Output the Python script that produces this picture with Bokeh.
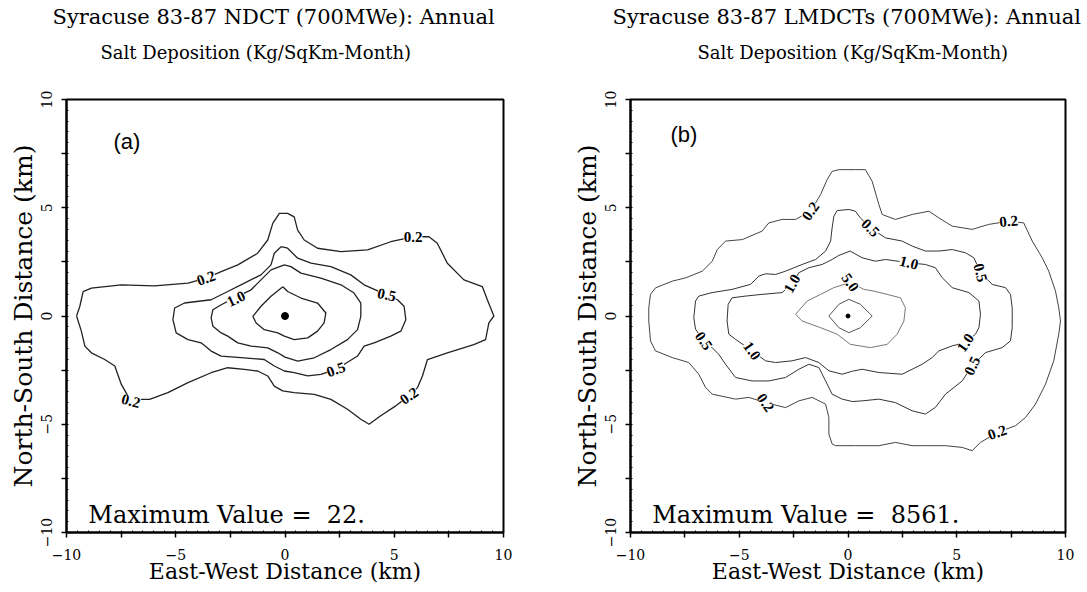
from bokeh.plotting import figure
from bokeh.models import ColumnDataSource, LabelSet, Label, FixedTicker, Title
from bokeh.layouts import row
from bokeh.embed import file_html
from bokeh.resources import INLINE

SERIF = "DejaVu Serif"

# ---------------- Panel (a): NDCT ----------------
a_c02_x = [-9.54, -9.39, -9.24, -8.86, -7.49, -5.97, -4.44, -3.61, -2.92, -2.16, -1.25, -0.79, -0.56, -0.26,
           0.12, 0.42, 0.58, 0.88, 1.49, 2.56, 3.78, 4.84, 5.86, 6.59, 6.97, 7.43, 8.19, 9.03, 9.26, 9.56,
           9.33, 9.18, 8.64, 7.43, 6.52, 6.29, 6.06, 5.68, 5.07, 4.38, 3.85, 3.47, 2.86, 2.10, 1.34, 0.42,
           -0.11, -0.49, -0.79, -1.25, -1.86, -2.62, -3.38, -4.44, -5.36, -6.20, -7.10, -7.49, -7.79, -8.25,
           -8.86, -9.16, -9.32, -9.54]
a_c02_y = [0.00, 0.45, 1.13, 1.29, 1.44, 1.39, 1.52, 1.75, 2.05, 2.36, 2.90, 3.51, 4.28, 4.74,
           4.74, 4.58, 3.97, 3.51, 3.13, 2.97, 3.05, 3.43, 3.66, 3.66, 3.36, 2.44, 1.67, 1.36, 0.75, 0.00,
           -0.32, -1.09, -1.32, -1.70, -2.01, -2.77, -3.31, -3.69, -4.15, -4.61, -5.00, -4.77, -4.31, -3.85,
           -3.62, -3.54, -3.46, -3.24, -2.77, -2.54, -2.47, -2.39, -2.62, -3.08, -3.54, -3.85, -3.85, -3.16,
           -2.31, -2.01, -1.70, -1.39, -0.70, 0.00]
a_c05_x = [-0.18, 0.12, 0.58, 1.19, 2.10, 3.01, 3.62, 4.66, 5.15, 5.45, 5.53, 5.30, 4.84, 4.08, 3.62, 3.32,
           2.33, 1.64, 1.04, 0.42, -0.03, -0.49, -0.95, -1.86, -2.92, -3.38, -3.84, -4.44, -4.98, -5.13,
           -5.05, -4.60, -3.38, -2.62, -1.86, -1.10, -0.64, -0.49, -0.18]
a_c05_y = [3.20, 3.13, 2.67, 2.44, 2.28, 1.90, 1.44, 0.98, 0.75, 0.45, -0.17, -0.70, -0.93, -1.24, -1.39,
           -1.85, -2.47, -2.70, -2.77, -2.62, -2.54, -2.31, -2.01, -1.93, -1.85, -1.62, -1.24, -1.09, -0.78,
           -0.17, 0.37, 0.60, 0.75, 1.13, 1.52, 1.90, 2.36, 2.90, 3.20]
a_c10_x = [-0.03, 0.27, 0.73, 1.64, 2.56, 3.16, 3.47, 3.47, 3.32, 2.86, 2.10, 1.34, 0.58, 0.00, -0.33, -0.79,
           -1.55, -2.16, -2.62, -2.92, -3.30, -3.38, -3.30, -2.92, -2.24, -1.55, -1.10, -0.64, -0.03]
a_c10_y = [2.36, 2.28, 1.98, 1.75, 1.44, 1.06, 0.60, -0.02, -0.63, -1.09, -1.55, -1.93, -2.08, -1.90, -1.70,
           -1.47, -1.39, -1.24, -0.93, -0.78, -0.47, -0.09, 0.29, 0.52, 0.87, 1.21, 1.67, 2.13, 2.36]
a_c50_x = [-0.10, 0.12, 0.73, 1.49, 1.87, 1.79, 1.49, 1.04, 0.42, -0.03, -0.33, -0.95, -1.32, -1.47, -1.10,
           -0.64, -0.10]
a_c50_y = [1.35, 1.13, 0.83, 0.60, 0.14, -0.32, -0.70, -1.01, -1.09, -0.93, -0.78, -0.63, -0.32, -0.02, 0.45,
           0.91, 1.35]
a_lab_x = [-3.61, 5.86, 5.68, -7.05, 4.66, 2.33, -2.24]
a_lab_y = [1.75, 3.66, -3.69, -3.92, 0.98, -2.47, 0.80]
a_lab_text = ["0.2", "0.2", "0.2", "0.2", "0.5", "0.5", "1.0"]
a_lab_angle = [20, 0, 35, -15, -12, 20, 25]
a_max = "Maximum Value =\u00a0 22."

# ---------------- Panel (b): LMDCTs ----------------
b_c02_x = [0.34, -0.42, -0.73, -0.96, -1.26, -1.72, -2.41, -3.03, -3.64, -3.95, -4.86, -5.63, -6.01, -6.24,
           -6.70, -7.47, -8.08, -8.85, -9.08, -9.16, -9.16, -9.08, -8.85, -8.08, -7.32, -6.86, -6.55, -6.24,
           -5.17, -4.56, -3.79, -2.87, -2.26, -1.65, -1.03, -0.88, -0.88, -0.73, -0.57, 0.34, 0.65, 1.42,
           2.18, 2.95, 3.56, 4.48, 5.25, 5.71, 6.09, 6.86, 7.70, 8.16, 8.62, 9.08, 9.46, 9.69, 9.77, 9.69,
           9.54, 9.23, 8.93, 8.47, 8.08, 7.39, 6.47, 5.71, 4.79, 4.18, 3.72, 2.95, 2.18, 1.57, 1.42, 1.11,
           0.80, 0.34]
b_c02_y = [6.76, 6.76, 6.68, 6.30, 5.61, 4.84, 4.46, 4.46, 4.30, 3.92, 3.53, 3.46, 3.07, 2.53,
           2.07, 1.76, 1.61, 1.30, 1.00, 0.38, -0.23, -1.15, -1.61, -1.92, -2.15, -2.69, -3.30, -3.61,
           -3.84, -3.76, -4.00, -4.23, -3.92, -3.76, -4.07, -4.69, -5.45, -5.91, -5.99, -5.99, -5.99, -5.99,
           -5.84, -5.99, -5.99, -5.99, -6.07, -6.22, -5.84, -5.38, -5.07, -4.69, -4.07, -3.15, -2.07, -0.84,
           -0.23, 0.38, 1.15, 2.07, 2.69, 3.46, 4.30, 4.38, 4.23, 4.00, 4.15, 4.53, 4.84, 4.69, 4.46, 4.69,
           5.15, 6.22, 6.76, 6.76]
b_c05_x = [0.04, -0.50, -0.65, -0.73, -0.80, -1.03, -1.49, -2.11, -2.87, -3.33, -3.79, -4.10, -4.48, -5.33,
           -6.25, -6.86, -7.01, -7.09, -7.01, -6.63, -6.25, -5.94, -5.63, -5.17, -4.41, -3.64, -2.87, -2.26,
           -1.80, -1.34, -1.03, -0.73, -0.27, 0.20, 0.65, 1.42, 2.18, 2.95, 3.56, 4.02, 4.48, 5.25, 5.71,
           6.32, 7.09, 7.47, 7.55, 7.55, 7.47, 7.24, 6.63, 6.09, 5.79, 5.40, 4.79, 4.18, 3.56, 2.95, 2.49,
           1.72, 1.03, 0.57, 0.34, 0.04]
b_c05_y = [4.92, 4.87, 4.61, 4.07, 3.46, 3.00, 2.61, 2.38, 2.07, 1.92, 1.95, 1.84, 1.46, 1.23,
           1.08, 0.92, 0.69, -0.08, -0.61, -1.15, -1.46, -1.77, -2.23, -2.84, -3.00, -3.00, -2.84, -2.46,
           -2.23, -2.38, -3.00, -3.61, -3.84, -3.95, -3.92, -3.84, -4.00, -4.38, -4.53, -4.22, -3.61, -3.00,
           -2.30, -1.69, -1.46, -1.15, -0.54, 0.38, 1.00, 1.31, 1.46, 2.00, 2.69, 2.92, 3.07, 3.00, 3.00,
           3.23, 3.46, 3.61, 4.07, 4.53, 4.84, 4.92]
b_c10_x = [0.10, -0.42, -0.73, -1.19, -1.80, -2.26, -2.57, -3.03, -3.95, -4.71, -5.33, -5.51, -5.56, -5.48,
           -5.17, -4.41, -3.79, -3.33, -2.57, -1.95, -1.34, -0.88, -0.27, 0.20, 0.65, 1.42, 2.49, 3.41,
           3.87, 4.18, 4.79, 5.40, 5.86, 6.02, 6.09, 6.02, 5.56, 4.79, 4.33, 4.02, 3.56, 2.80, 1.72, 1.26,
           0.65, 0.10]
b_c10_y = [3.00, 2.80, 2.61, 2.38, 2.23, 2.00, 1.49, 1.08, 1.00, 0.92, 0.84, 0.54, -0.23, -0.84,
           -1.08, -1.61, -2.07, -2.15, -2.07, -1.92, -2.15, -2.53, -2.69, -2.55, -2.46, -2.61, -2.69, -2.23,
           -1.92, -1.61, -1.38, -1.23, -0.84, -0.54, 0.08, 0.69, 1.08, 1.31, 1.77, 2.23, 2.38, 2.46, 2.61,
           2.53, 2.69, 3.00]
b_c50_x = [0.10, 0.73, 1.19, 1.80, 2.41, 2.64, 2.57, 2.26, 1.80, 1.03, 0.11, -0.50, -1.26, -2.11, -2.41,
           -1.88, -1.26, -0.65, 0.10]
b_c50_y = [1.55, 1.23, 1.15, 1.00, 0.84, 0.38, -0.23, -0.84, -1.31, -1.46, -1.31, -0.84, -0.54, -0.23, 0.08,
           0.69, 1.00, 1.31, 1.55]
b_cin_x = [-0.88, -0.42, 0.04, 0.57, 1.11, 0.57, 0.04, -0.42, -0.88]
b_cin_y = [0.00, 0.54, 0.77, 0.54, 0.00, -0.54, -0.77, -0.54, 0.00]
b_lab_x = [-1.72, 7.39, -3.79, 6.86, 1.03, 6.09, 5.71, -6.63, -2.57, -4.41, 2.80, 5.40, 0.10]
b_lab_y = [4.84, 4.38, -4.00, -5.38, 4.07, 2.00, -2.30, -1.15, 1.49, -1.61, 2.46, -1.23, 1.55]
b_lab_text = ["0.2", "0.2", "0.2", "0.2", "0.5", "0.5", "0.5", "0.5", "1.0", "1.0", "1.0", "1.0", "5.0"]
b_lab_angle = [55, 5, -55, 20, -45, -75, 65, -55, 60, -55, -15, 55, -55]
b_max = "Maximum Value =\u00a0 8561."

major_ticks = [-10, -7.5, -5, -2.5, 0, 2.5, 5, 7.5, 10]
minor_ticks = [i * 0.5 - 10 for i in range(41)]
tick_labels = {-10: "\u221210", -7.5: "", -5: "\u22125", -2.5: "", 0: "0", 2.5: "", 5: "5", 7.5: "", 10: "10"}


def panel(width, bl, br, title, title_off, sub_off, tag, tag_x, tag_y, contours, line_colors, line_width,
          lx, ly, lt, la, maxtext, dot_size):
    p = figure(width=width, height=590, x_range=(-10, 10), y_range=(-10, 10), title=None,
               output_backend="svg", toolbar_location=None,
               min_border_left=bl, min_border_right=br, min_border_top=97, min_border_bottom=58)
    p.xgrid.visible = False
    p.ygrid.visible = False
    p.outline_line_color = "black"
    p.outline_line_width = 2
    p.outline_line_alpha = 1
    for ax in (p.xaxis[0], p.yaxis[0]):
        ax.ticker = FixedTicker(ticks=major_ticks, minor_ticks=minor_ticks)
        ax.major_label_overrides = tick_labels
        ax.major_label_text_font = SERIF
        ax.major_label_text_font_size = "14px"
        ax.major_label_text_color = "black"
        ax.axis_line_width = 2
        ax.axis_line_color = "black"
        ax.major_tick_line_color = "black"
        ax.major_tick_line_width = 1.5
        ax.major_tick_out = 5
        ax.major_tick_in = 0
        ax.minor_tick_in = 2
        ax.minor_tick_out = 0
        ax.minor_tick_line_color = "black"
        ax.axis_label_text_font = SERIF
        ax.axis_label_text_font_style = "normal"
        ax.axis_label_text_color = "black"
    p.xaxis.axis_label = "East-West Distance (km)"
    p.xaxis.axis_label_text_font_size = "22px"
    p.xaxis.major_label_standoff = 11
    p.xaxis.axis_label_standoff = -4
    p.yaxis.axis_label = "North-South Distance (km)"
    p.yaxis.axis_label_text_font_size = "25px"
    p.yaxis.major_label_orientation = "vertical"
    p.yaxis.major_label_standoff = 10
    p.yaxis.axis_label_standoff = 0

    # spacing panel next to the frame, then subtitle, then main title on top
    p.add_layout(Title(text=" ", standoff=24, text_font_size="2px"), "above")
    p.add_layout(Title(text="Salt Deposition (Kg/SqKm-Month)", align="left", offset=sub_off,
                       standoff=17, text_font=SERIF, text_font_size="18px", text_font_style="normal",
                       text_color="black"), "above")
    p.add_layout(Title(text=title, align="left", offset=title_off, standoff=5,
                       text_font=SERIF, text_font_size="21px", text_font_style="normal",
                       text_color="black"), "above")

    xs = [c[0] for c in contours]
    ys = [c[1] for c in contours]
    p.multi_line(xs=xs, ys=ys, line_color=line_colors, line_width=line_width)
    p.scatter([0], [0], size=dot_size, color="black")

    src = ColumnDataSource(dict(x=lx, y=ly, text=lt, angle=la))
    p.add_layout(LabelSet(x="x", y="y", text="text", angle="angle", angle_units="deg", source=src,
                          text_align="center", text_baseline="middle", text_font=SERIF,
                          text_font_size="15px", text_font_style="bold", text_color="black",
                          background_fill_color="white", background_fill_alpha=1.0))

    p.add_layout(Label(x=tag_x, y=tag_y, text=tag, text_align="left", text_baseline="middle",
                       text_font="Liberation Sans", text_font_size="22px", text_color="black"))
    p.add_layout(Label(x=-9.0, y=-9.2, text=maxtext, text_align="left", text_baseline="middle",
                       text_font=SERIF, text_font_size="24px", text_color="black"))
    return p


pa = panel(548, 66, 45, "Syracuse 83-87 NDCT (700MWe): Annual", -14, 34, "(a)", -7.85, 8.05,
           [(a_c02_x, a_c02_y), (a_c05_x, a_c05_y), (a_c10_x, a_c10_y), (a_c50_x, a_c50_y)],
           ["#222222"] * 4, 1.3, a_lab_x, a_lab_y, a_lab_text, a_lab_angle, a_max, 7)
pb = panel(538, 82, 21, "Syracuse 83-87 LMDCTs (700MWe): Annual", -18, 67, "(b)", -8.16, 8.39,
           [(b_c02_x, b_c02_y), (b_c05_x, b_c05_y), (b_c10_x, b_c10_y), (b_c50_x, b_c50_y), (b_cin_x, b_cin_y)],
           ["#444444", "#333333", "#333333", "#777777", "#555555"], 1.0,
           b_lab_x, b_lab_y, b_lab_text, b_lab_angle, b_max, 4)

layout = row(pa, pb)
open("out.html", "w").write(file_html(layout, INLINE))
